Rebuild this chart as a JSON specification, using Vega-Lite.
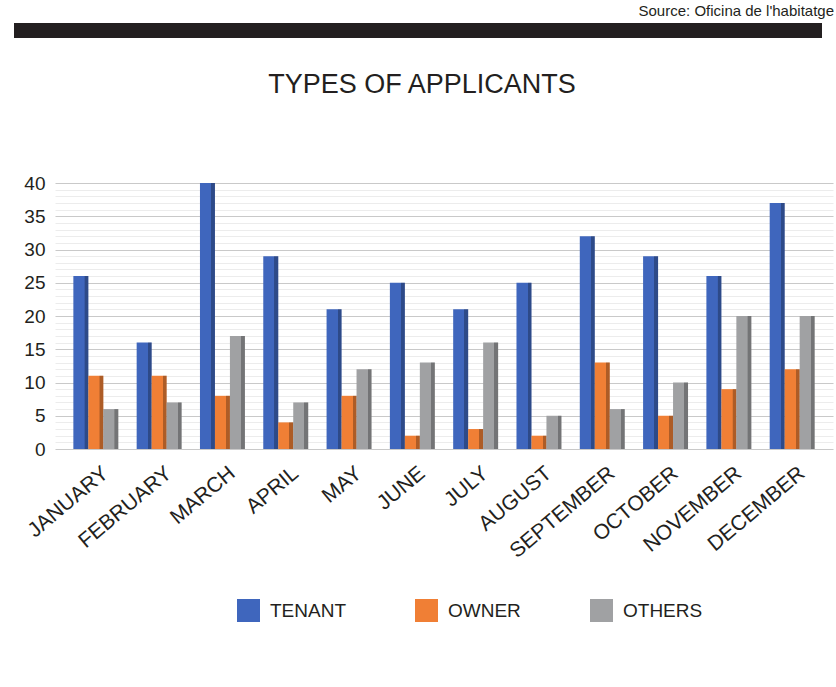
{
  "$schema": "https://vega.github.io/schema/vega-lite/v6.json",
  "background": "white",
  "padding": {"left": 14, "top": 4, "right": 0, "bottom": 0},
  "config": {"view": {"stroke": null}, "font": "Liberation Sans"},
  "spacing": 33,
  "vconcat": [
    {
      "width": 767,
      "height": 15,
      "title": {"text": "Source: Oficina de l'habitatge", "anchor": "end", "fontSize": 15, "fontWeight": "normal", "color": "#231f20", "offset": 4, "dx": 12},
      "data": {"values": [{"start": 0, "end": 1}]},
      "mark": {"type": "rect", "color": "#231f20"},
      "encoding": {
        "x": {"field": "start", "type": "quantitative", "scale": {"domain": [0, 1], "range": [-41, 767]}, "axis": null},
        "x2": {"field": "end"}
      }
    },
    {
      "width": 778,
      "height": 266,
      "title": {"text": "TYPES OF APPLICANTS", "fontSize": 27, "fontWeight": "normal", "color": "#231f20", "offset": 75, "dx": -22, "anchor": "middle"},
      "data": {"values": [
        {"month": "JANUARY", "type": "TENANT", "value": 26},
        {"month": "JANUARY", "type": "OWNER", "value": 11},
        {"month": "JANUARY", "type": "OTHERS", "value": 6},
        {"month": "FEBRUARY", "type": "TENANT", "value": 16},
        {"month": "FEBRUARY", "type": "OWNER", "value": 11},
        {"month": "FEBRUARY", "type": "OTHERS", "value": 7},
        {"month": "MARCH", "type": "TENANT", "value": 40},
        {"month": "MARCH", "type": "OWNER", "value": 8},
        {"month": "MARCH", "type": "OTHERS", "value": 17},
        {"month": "APRIL", "type": "TENANT", "value": 29},
        {"month": "APRIL", "type": "OWNER", "value": 4},
        {"month": "APRIL", "type": "OTHERS", "value": 7},
        {"month": "MAY", "type": "TENANT", "value": 21},
        {"month": "MAY", "type": "OWNER", "value": 8},
        {"month": "MAY", "type": "OTHERS", "value": 12},
        {"month": "JUNE", "type": "TENANT", "value": 25},
        {"month": "JUNE", "type": "OWNER", "value": 2},
        {"month": "JUNE", "type": "OTHERS", "value": 13},
        {"month": "JULY", "type": "TENANT", "value": 21},
        {"month": "JULY", "type": "OWNER", "value": 3},
        {"month": "JULY", "type": "OTHERS", "value": 16},
        {"month": "AUGUST", "type": "TENANT", "value": 25},
        {"month": "AUGUST", "type": "OWNER", "value": 2},
        {"month": "AUGUST", "type": "OTHERS", "value": 5},
        {"month": "SEPTEMBER", "type": "TENANT", "value": 32},
        {"month": "SEPTEMBER", "type": "OWNER", "value": 13},
        {"month": "SEPTEMBER", "type": "OTHERS", "value": 6},
        {"month": "OCTOBER", "type": "TENANT", "value": 29},
        {"month": "OCTOBER", "type": "OWNER", "value": 5},
        {"month": "OCTOBER", "type": "OTHERS", "value": 10},
        {"month": "NOVEMBER", "type": "TENANT", "value": 26},
        {"month": "NOVEMBER", "type": "OWNER", "value": 9},
        {"month": "NOVEMBER", "type": "OTHERS", "value": 20},
        {"month": "DECEMBER", "type": "TENANT", "value": 37},
        {"month": "DECEMBER", "type": "OWNER", "value": 12},
        {"month": "DECEMBER", "type": "OTHERS", "value": 20}
      ]},
      "encoding": {
        "x": {
          "field": "month", "type": "nominal",
          "sort": ["JANUARY","FEBRUARY","MARCH","APRIL","MAY","JUNE","JULY","AUGUST","SEPTEMBER","OCTOBER","NOVEMBER","DECEMBER"],
          "scale": {"paddingInner": 0.29, "paddingOuter": 0.29},
          "axis": {"title": null, "labelAngle": -40, "labelFontSize": 21, "labelColor": "#231f20", "domain": false, "ticks": false, "grid": false, "labelPadding": 13, "labelOffset": 3}
        },
        "xOffset": {"field": "type", "type": "nominal", "sort": ["TENANT","OWNER","OTHERS"], "scale": {"domain": ["TENANT","OWNER","OTHERS"], "paddingInner": 0}},
        "y": {
          "field": "value", "type": "quantitative",
          "scale": {"domain": [0, 40]},
          "axis": {
            "title": null,
            "values": [0,1,2,3,4,5,6,7,8,9,10,11,12,13,14,15,16,17,18,19,20,21,22,23,24,25,26,27,28,29,30,31,32,33,34,35,36,37,38,39,40],
            "labelExpr": "datum.value % 5 === 0 ? datum.label : ''",
            "labelFontSize": 19, "labelColor": "#231f20", "labelPadding": 10,
            "domain": false, "ticks": false, "minExtent": 41,
            "gridColor": {"condition": {"test": "datum.value % 5 === 0", "value": "#c9c9c9"}, "value": "#ececec"},
            "gridWidth": 1
          }
        }
      },
      "layer": [
        {
          "mark": {"type": "bar"},
          "encoding": {
            "color": {
              "field": "type", "type": "nominal",
              "sort": ["TENANT","OWNER","OTHERS"],
              "scale": {"domain": ["TENANT","OWNER","OTHERS"], "range": ["#3f66bd", "#f07f35", "#a0a1a3"]},
              "legend": {
                "title": null, "orient": "none", "legendX": 182, "legendY": 576, "direction": "horizontal",
                "symbolType": "square", "symbolSize": 529, "symbolStrokeWidth": 0, "symbolOpacity": 1,
                "labelFontSize": 19, "labelColor": "#231f20", "labelOffset": 10, "columnPadding": 69, "padding": 0
              }
            }
          }
        },
        {
          "mark": {
            "type": "bar",
            "fill": {
              "gradient": "linear", "x1": 0, "y1": 0, "x2": 1, "y2": 0,
              "stops": [
                {"offset": 0, "color": "rgba(0,0,0,0)"},
                {"offset": 0.74, "color": "rgba(0,0,0,0)"},
                {"offset": 0.75, "color": "rgba(0,0,0,0.28)"},
                {"offset": 1, "color": "rgba(0,0,0,0.28)"}
              ]
            }
          }
        }
      ]
    }
  ]
}
